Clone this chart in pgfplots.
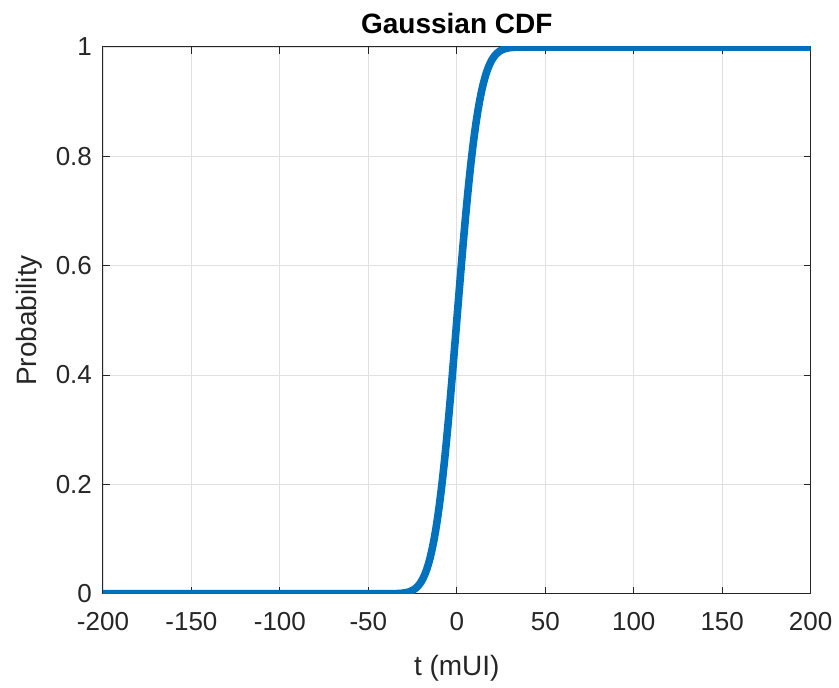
\documentclass[border=0pt]{standalone}
\usepackage{fontspec}
\setmainfont{Liberation Sans}
\usepackage{pgfplots}
\pgfplotsset{compat=1.18}
\definecolor{mlblue}{rgb}{0,0.447,0.741}
\definecolor{axgray}{rgb}{0.15,0.15,0.15}
\definecolor{gridgray}{rgb}{0.88,0.88,0.88}
\begin{document}
\begin{tikzpicture}
\begin{axis}[
  scale only axis,
  width=354pt, height=273.5pt,
  xmin=-200, xmax=200, ymin=0, ymax=1,
  xtick={-200,-150,-100,-50,0,50,100,150,200},
  xticklabels={-200,-150,-100,-50,0,50,100,150,200},
  ytick={0,0.2,0.4,0.6,0.8,1},
  yticklabels={0,0.2,0.4,0.6,0.8,1},
  tick align=inside,
  major tick length=3.5pt,
  xtick pos=both, ytick pos=both,
  grid=major,
  major grid style={gridgray, line width=0.4pt},
  axis line style={axgray, line width=0.5pt},
  tick style={axgray, line width=0.5pt},
  ticklabel style={font=\fontsize{13}{15}\selectfont, text=axgray},
  xticklabel style={yshift=-6pt},
  yticklabel style={xshift=-2pt},
  label style={font=\fontsize{14}{16}\selectfont, text=axgray},
  xlabel={t (mUI)},
  xlabel style={yshift=-5pt},
  ylabel={Probability},
  title={\textbf{Gaussian CDF}},
  title style={font=\fontsize{14}{16}\selectfont, yshift=-3pt},
]
\addplot[mlblue, line width=3.8pt, line join=round] coordinates {
(-200,0) (-100,0) (-50,0) (-40,0.0000317) (-39,0.0000481) (-38,0.0000723)
(-37,0.000108) (-36,0.000159) (-35,0.000233) (-34,0.000337) (-33,0.000483)
(-32,0.000687) (-31,0.000968) (-30,0.00135) (-29,0.00187) (-28,0.00256)
(-27,0.00347) (-26,0.00466) (-25,0.00621) (-24,0.00820) (-23,0.01072)
(-22,0.01390) (-21,0.01786) (-20,0.02275) (-19,0.02872) (-18,0.03593)
(-17,0.04457) (-16,0.05480) (-15,0.06681) (-14,0.08076) (-13,0.09680)
(-12,0.11507) (-11,0.13567) (-10,0.15866) (-9,0.18406) (-8,0.21186)
(-7,0.24196) (-6,0.27425) (-5,0.30854) (-4,0.34458) (-3,0.38209)
(-2,0.42074) (-1,0.46017) (0,0.5) (1,0.53983) (2,0.57926)
(3,0.61791) (4,0.65542) (5,0.69146) (6,0.72575) (7,0.75804)
(8,0.78814) (9,0.81594) (10,0.84134) (11,0.86433) (12,0.88493)
(13,0.90320) (14,0.91924) (15,0.93319) (16,0.94520) (17,0.95543)
(18,0.96407) (19,0.97128) (20,0.97725) (21,0.98214) (22,0.98610)
(23,0.98928) (24,0.99180) (25,0.99379) (26,0.99534) (27,0.99653)
(28,0.99744) (29,0.99813) (30,0.99865) (31,0.999032) (32,0.999313)
(33,0.999517) (34,0.999663) (35,0.999767) (36,0.999841) (37,0.999892)
(38,0.999928) (39,0.999952) (40,0.999968) (50,1) (100,1) (200,1)
};
\end{axis}
\path (current axis.south west) ++(-51.5pt,-46pt) coordinate (bbA);
\path (current axis.north east) ++(14pt,23.5pt) coordinate (bbB);
\useasboundingbox (bbA) rectangle (bbB);
\end{tikzpicture}
\end{document}
